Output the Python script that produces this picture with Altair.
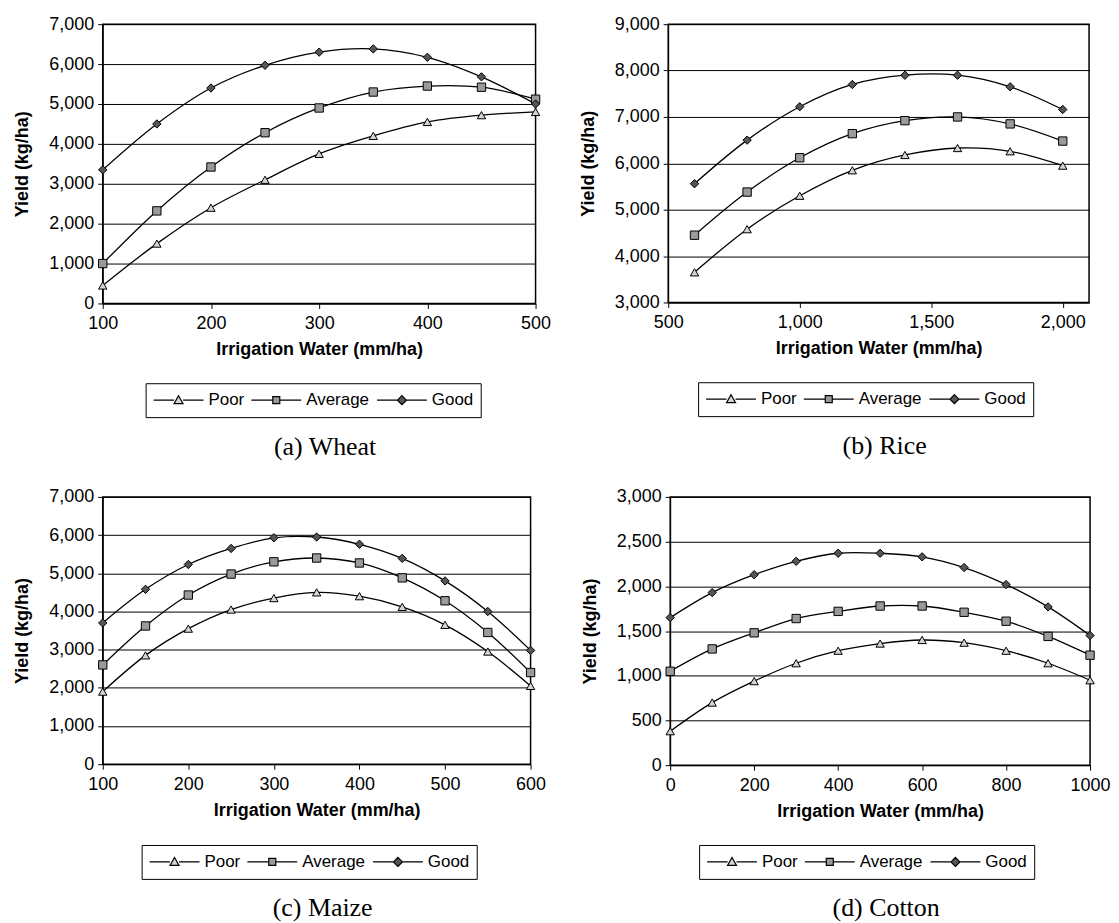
import altair as alt
import pandas as pd

SERIES = ["Poor", "Average", "Good"]

# (a) Wheat
wheat_x = [100, 150, 200, 250, 300, 350, 400, 450, 500]
wheat_poor = [450, 1500, 2400, 3100, 3750, 4200, 4550, 4720, 4800]
wheat_avg = [1000, 2320, 3420, 4280, 4900, 5300, 5450, 5420, 5120]
wheat_good = [3350, 4500, 5400, 5970, 6300, 6380, 6170, 5680, 5000]

# (b) Rice
rice_x = [600, 800, 1000, 1200, 1400, 1600, 1800, 2000]
rice_poor = [3650, 4580, 5300, 5850, 6180, 6330, 6260, 5950]
rice_avg = [4450, 5380, 6120, 6640, 6920, 7000, 6850, 6480]
rice_good = [5560, 6500, 7220, 7700, 7900, 7900, 7650, 7160]

# (c) Maize
maize_x = [100, 150, 200, 250, 300, 350, 400, 450, 500, 550, 600]
maize_poor = [1900, 2850, 3550, 4050, 4350, 4500, 4400, 4120, 3650, 2950, 2050]
maize_avg = [2600, 3620, 4430, 4980, 5300, 5400, 5270, 4880, 4280, 3450, 2400]
maize_good = [3700, 4580, 5230, 5650, 5930, 5950, 5760, 5390, 4800, 4000, 2980]

# (d) Cotton
cotton_x = [0, 100, 200, 300, 400, 500, 600, 700, 800, 900, 1000]
cotton_poor = [380, 700, 940, 1140, 1280, 1360, 1400, 1370, 1280, 1140, 950]
cotton_avg = [1050, 1300, 1480, 1640, 1720, 1780, 1780, 1710, 1610, 1440, 1230]
cotton_good = [1650, 1930, 2130, 2280, 2370, 2370, 2330, 2210, 2020, 1770, 1450]

MARK_SHAPES = ["triangle-up", "square", "diamond"]
MARK_FILLS = ["#d4d4d4", "#9a9a9a", "#555555"]
LEGEND_PATHS = [
    "M-1,0L-0.18,0M0.18,0L1,0M0,-0.18L0.18,0.14L-0.18,0.14Z",
    "M-1,0L-0.14,0M0.14,0L1,0M-0.14,-0.14L0.14,-0.14L0.14,0.14L-0.14,0.14Z",
    "M-1,0L-0.18,0M0.18,0L1,0M0,-0.18L0.18,0L0,0.18L-0.18,0Z",
]
FONT = "Liberation Sans"


def panel(xs, poor, avg, good, xdom, xticks, xfmt, ydom, yticks, w, h, lx, ly, caption):
    rows = []
    for name, vals in zip(SERIES, [poor, avg, good]):
        for xv, yv in zip(xs, vals):
            rows.append({"x": xv, "y": yv, "series": name})
    df = pd.DataFrame(rows)
    base = alt.Chart(df)
    xenc = alt.X("x:Q", scale=alt.Scale(domain=xdom, nice=False, zero=False),
                 axis=alt.Axis(values=xticks, format=xfmt, grid=False, labelFlush=False,
                               title="Irrigation Water (mm/ha)"))
    yenc = alt.Y("y:Q", scale=alt.Scale(domain=ydom, nice=False, zero=False),
                 axis=alt.Axis(values=yticks, format=",d", grid=True, labelFlush=False,
                               title="Yield (kg/ha)"))
    lines = base.mark_line(color="black", strokeWidth=1.3, interpolate="catmull-rom").encode(
        x=xenc, y=yenc, detail="series:N")
    layers = [lines]
    for name, shp, fl in zip(SERIES, MARK_SHAPES, MARK_FILLS):
        layers.append(
            base.transform_filter(alt.datum.series == name)
            .mark_point(shape=shp, filled=True, fill=fl, stroke="black",
                        strokeWidth=1, size=70, opacity=1)
            .encode(x=xenc, y=yenc))
    leg = alt.Legend(title=None, orient="none", legendX=lx, legendY=ly,
                     direction="horizontal", symbolSize=2500, clipHeight=20,
                     labelOffset=4, columnPadding=6, padding=7,
                     strokeColor="black", fillColor="white",
                     labelFont=FONT, labelFontSize=17, labelColor="black",
                     symbolStrokeColor="black", symbolStrokeWidth=1.2,
                     symbolOpacity=1)
    legend_layer = base.transform_filter(alt.datum.x < -100000).mark_point(
        filled=True, strokeWidth=1.2, opacity=1).encode(
        x=xenc, y=yenc,
        shape=alt.Shape("series:N", scale=alt.Scale(domain=SERIES, range=LEGEND_PATHS), legend=leg),
        fill=alt.Fill("series:N", scale=alt.Scale(domain=SERIES, range=MARK_FILLS), legend=leg),
        stroke=alt.Stroke("series:N", scale=alt.Scale(domain=SERIES, range=["black", "black", "black"]), legend=leg),
    )
    layers.append(legend_layer)
    return alt.layer(*layers).properties(
        width=w, height=h,
        title=alt.TitleParams(text=caption, orient="bottom", anchor="middle",
                              font="Liberation Serif", fontSize=26, dx=6,
                              fontWeight="normal", color="black", offset=16),
    )


a = panel(wheat_x, wheat_poor, wheat_avg, wheat_good, [100, 500], [100, 200, 300, 400, 500], "d",
          [0, 7000], list(range(0, 7001, 1000)), 434, 280, 43, 360, "(a) Wheat")
b = panel(rice_x, rice_poor, rice_avg, rice_good, [500, 2100], [500, 1000, 1500, 2000], ",d",
          [3000, 9000], list(range(3000, 9001, 1000)), 422, 279, 30, 359, "(b) Rice")
c = panel(maize_x, maize_poor, maize_avg, maize_good, [100, 600], [100, 200, 300, 400, 500, 600], "d",
          [0, 7000], list(range(0, 7001, 1000)), 429, 268, 39, 349, "(c) Maize")
d = panel(cotton_x, cotton_poor, cotton_avg, cotton_good, [0, 1000], [0, 200, 400, 600, 800, 1000], "d",
          [0, 3000], list(range(0, 3001, 500)), 421, 269, 29, 349, "(d) Cotton")

RS = dict(shape="independent", fill="independent", stroke="independent", x="independent", y="independent")
RL = dict(shape="independent", fill="independent", stroke="independent")
top = alt.hconcat(a, b, spacing=27).resolve_scale(**RS).resolve_legend(**RL)
bottom = alt.hconcat(c, d, spacing=34).resolve_scale(**RS).resolve_legend(**RL)

chart = alt.vconcat(top, bottom, spacing=26).resolve_scale(**RS).resolve_legend(**RL).properties(
    padding={"left": 5, "top": 5, "right": 0, "bottom": 0},
    background="white",
).configure_view(
    stroke="black", strokeWidth=1.5
).configure_axis(
    labelFont=FONT, labelFontSize=18, labelColor="black",
    titleFont=FONT, titleFontSize=18, titleFontWeight="bold", titleColor="black",
    domainColor="black", tickColor="black", tickSize=5, labelPadding=4,
    gridColor="black", gridOpacity=1, gridWidth=1,
).configure_axisY(titlePadding=17).configure_axisX(titlePadding=8, labelPadding=6)

chart.save("out.html", embed_options={"renderer": "svg", "actions": False})
